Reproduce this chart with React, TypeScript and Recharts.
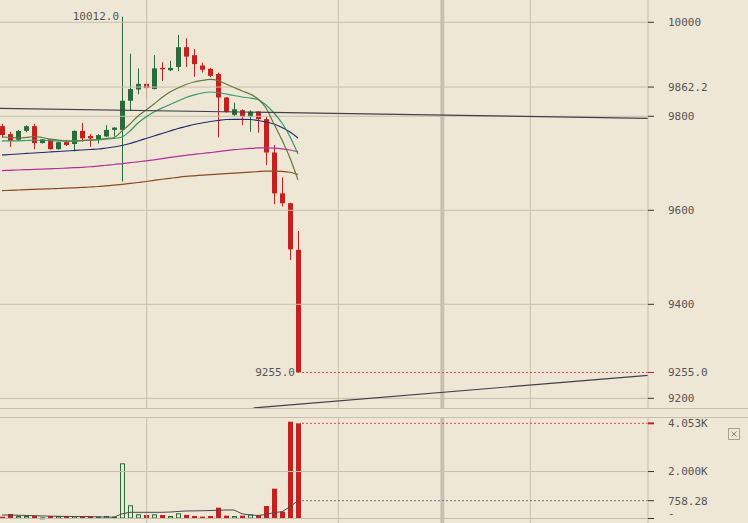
import React from 'react';
import { ComposedChart, Bar, Line, XAxis, YAxis, ReferenceLine, ReferenceDot } from 'recharts';

// ---------- data ----------
const openP = [9779, 9762, 9750, 9769, 9779, 9743, 9751, 9730, 9745, 9741, 9769, 9758, 9751, 9757, 9771, 9771, 9833, 9857, 9869, 9858, 9903, 9898, 9905, 9947, 9930, 9908, 9901, 9890, 9840, 9803, 9813, 9799, 9810, 9794, 9723, 9636, 9615, 9516];
const highP = [9784, 9767, 9771, 9781, 9784, 9752, 9752, 9746, 9748, 9770, 9786, 9762, 9762, 9781, 9777, 10012, 9933, 9902, 9876, 9930, 9915, 9918, 9973, 9966, 9943, 9914, 9903, 9893, 9841, 9829, 9815, 9813, 9811, 9799, 9739, 9670, 9616, 9556];
const lowP = [9754, 9735, 9748, 9766, 9730, 9742, 9729, 9729, 9737, 9725, 9746, 9735, 9742, 9756, 9757, 9661, 9811, 9847, 9837, 9857, 9875, 9896, 9896, 9905, 9884, 9893, 9883, 9755, 9808, 9799, 9781, 9767, 9765, 9696, 9613, 9608, 9494, 9255];
const closeP = [9760, 9748, 9769, 9779, 9743, 9751, 9730, 9745, 9739, 9769, 9753, 9753, 9760, 9771, 9776, 9833, 9858, 9869, 9860, 9902, 9900, 9903, 9947, 9927, 9911, 9899, 9886, 9840, 9809, 9815, 9799, 9810, 9794, 9723, 9636, 9615, 9517, 9255];
const volumes = [77, 192, 106, 106, 106, 50, 106, 106, 106, 106, 106, 106, 80, 106, 80, 2350, 562, 178, 149, 178, 149, 106, 220, 149, 106, 80, 106, 461, 120, 106, 120, 178, 135, 532, 1270, 291, 4123, 4053];
const volMA = [149, 149, 140, 130, 120, 110, 100, 95, 90, 85, 85, 80, 70, 60, 55, 200, 264, 264, 264, 264, 264, 275, 300, 319, 325, 330, 340, 350, 362, 362, 200, 150, 130, 170, 250, 290, 500, 758.28];

const maFast = [9756.0, 9754.9, 9753.8, 9754.9, 9757.0, 9754.9, 9751.7, 9749.6, 9747.5, 9746.4, 9748.5, 9749.6, 9750.6, 9752.8, 9754.9, 9768.7, 9783.6, 9800.6, 9813.4, 9826.2, 9840.0, 9851.7, 9860.2, 9867.6, 9873.0, 9876.2, 9878.7, 9876.2, 9868.7, 9861.3, 9853.9, 9847.4, 9836.8, 9817.6, 9783.6, 9749.6, 9711.3, 9664.5];
const maMid = [9747.5, 9747.5, 9747.9, 9748.5, 9749.0, 9749.0, 9748.5, 9747.9, 9747.5, 9747.5, 9748.1, 9749.0, 9750.0, 9751.3, 9752.8, 9756.0, 9768.7, 9785.7, 9798.5, 9809.1, 9817.6, 9825.1, 9832.5, 9840.0, 9845.3, 9849.6, 9851.7, 9850.6, 9847.4, 9844.2, 9841.0, 9838.9, 9835.7, 9824.1, 9807.0, 9785.7, 9756.6, 9719.8];
const maNavy = [9717.7, 9718.7, 9719.8, 9720.9, 9721.9, 9723.0, 9724.0, 9725.1, 9726.2, 9727.2, 9728.3, 9729.4, 9730.4, 9732.5, 9734.7, 9737.9, 9742.1, 9747.5, 9752.8, 9758.1, 9763.4, 9768.7, 9774.0, 9778.3, 9782.5, 9785.7, 9788.9, 9791.1, 9793.2, 9793.6, 9793.6, 9793.2, 9791.1, 9787.9, 9783.6, 9776.2, 9766.6, 9753.8];
const maMagenta = [9684.5, 9685.1, 9685.7, 9686.4, 9687.0, 9687.7, 9688.3, 9688.9, 9689.8, 9690.6, 9691.5, 9692.6, 9693.8, 9695.8, 9697.4, 9699.4, 9701.3, 9703.2, 9705.1, 9707.4, 9710.0, 9712.5, 9714.9, 9717.0, 9719.1, 9720.8, 9722.8, 9724.7, 9727.0, 9728.9, 9730.4, 9731.7, 9732.6, 9733.0, 9732.3, 9730.8, 9728.3, 9724.7];
const maBrown = [9641.9, 9642.5, 9643.2, 9643.8, 9644.5, 9645.1, 9645.7, 9646.4, 9647.0, 9647.9, 9648.7, 9649.6, 9650.6, 9652.1, 9653.6, 9655.3, 9657.2, 9659.2, 9661.3, 9663.6, 9666.0, 9668.1, 9670.2, 9672.0, 9673.4, 9674.7, 9676.0, 9677.0, 9678.1, 9679.1, 9680.2, 9681.3, 9682.3, 9683.2, 9683.4, 9682.8, 9680.9, 9676.2];

const priceTicks = [10000, 9862.2, 9800, 9600, 9400, 9255, 9200];
const priceTickLabels = ['10000', '9862.2', '9800', '9600', '9400', '9255.0', '9200'];
const volTicks = [4053, 2000, 758.28, 0];
const volTickLabels = ['4.053K', '2.000K', '758.28', '-'];

const priceGrid = [10000, 9862.2, 9800, 9600, 9400, 9200];
const volGrid = [2000, 0];
const vGrid = [18.08, 42.05, 66.05];
const sessionLine = 55.04;

const lastClose = 9255;
const lastVol = 4053;
const lastVolMA = 758.28;
const highLabel = { i: 15, v: 10012, text: '10012.0' };
const lowLabel = { i: 37, v: 9255, text: '9255.0' };

const trendA = [{ x: -0.25, y: 9817 }, { x: 80.75, y: 9795.7 }];
const trendB = [{ x: 31.4, y: 9179.4 }, { x: 80.75, y: 9248.9 }];

const xDomain: [number, number] = [-0.25, 80.75];
const priceDomain: [number, number] = [9179.4, 10047.4];
const volDomain: [number, number] = [-191.7, 4280.6];

const data = openP.map((o, i) => ({
  i,
  open: o,
  high: highP[i],
  low: lowP[i],
  close: closeP[i],
  range: [lowP[i], highP[i]],
  vol: volumes[i],
  volMA: volMA[i],
  ma1: maFast[i],
  ma2: maMid[i],
  ma3: maNavy[i],
  ma4: maMagenta[i],
  ma5: maBrown[i],
}));

// ---------- styles ----------
const BG = '#efe7d5';
const GRID = '#c7beac';
const RED = '#c4201f';
const GREEN = '#2a6b3c';
const TXT = '#555555';
const FONT = '"DejaVu Sans Mono", "Liberation Mono", monospace';
const W = 748;
const PRICE_H = 408;
const VOL_TOP = 418;
const VOL_H = 105;
const AXIS_W = 100;

const Candle = (props: any) => {
  const { x, y, width, height, payload } = props;
  if (!payload) return null;
  const { open, close, high, low } = payload;
  const top = Math.min(y, y + height);
  const h = Math.abs(height);
  const ratio = h / (high - low);
  const up = close >= open;
  const color = up ? GREEN : RED;
  const bx = Math.round(x);
  const bw = Math.round(width);
  const cx = bx + bw / 2;
  const bodyTop = top + (high - Math.max(open, close)) * ratio;
  const bodyH = Math.max(1, Math.abs(open - close) * ratio);
  return (
    <g>
      <line x1={cx} x2={cx} y1={top} y2={top + h} stroke={color} strokeWidth={1} />
      <rect x={bx} y={bodyTop} width={bw} height={bodyH} fill={color} />
    </g>
  );
};

const VolBar = (props: any) => {
  const { x, y, width, height, payload } = props;
  if (!payload) return null;
  const up = payload.close >= payload.open;
  const top = Math.min(y, y + height);
  const h = Math.abs(height);
  const bx = Math.round(x);
  const bw = Math.round(width);
  if (up) {
    return <rect x={bx + 0.5} y={top + 0.5} width={bw - 1} height={Math.max(1, h - 1)} fill="none" stroke={GREEN} strokeWidth={1} />;
  }
  return <rect x={bx} y={top} width={bw} height={h} fill={RED} />;
};

const makeTick = (ticks: number[], labels: string[], redValue: number, thickRed: boolean) => (props: any) => {
  const { x, y, payload } = props;
  const v = payload.value;
  const idx = ticks.indexOf(v);
  const red = v === redValue;
  const isZero = v === 0 && labels === volTickLabels;
  return (
    <g>
      <line x1={x} x2={x + 6} y1={y} y2={y} stroke={red ? RED : '#333'} strokeWidth={red && thickRed ? 2 : 1} />
      <text x={x + 20} y={isZero ? y - 1.5 : y} dy={isZero ? '0' : '0.35em'} fill={TXT} fontSize={11} fontFamily={FONT} textAnchor="start">
        {idx >= 0 ? labels[idx] : String(v)}
      </text>
    </g>
  );
};

const PriceTick = makeTick(priceTicks, priceTickLabels, lastClose, false);
const VolTick = makeTick(volTicks, volTickLabels, lastVol, true);

const PointLabel = (text: string) => (props: any) => {
  const vb = props.viewBox || {};
  const x = (vb.x ?? 0) + (vb.width ?? 0) / 2;
  const y = (vb.y ?? 0) + (vb.height ?? 0) / 2;
  return (
    <text x={x - 3} y={y} dy="0.35em" textAnchor="end" fill={TXT} fontSize={11} fontFamily={FONT}>
      {text}
    </text>
  );
};

const lineProps = {
  strokeWidth: 1.2,
  dot: false,
  activeDot: false,
  type: 'monotone' as const,
  isAnimationActive: false,
};

export default function App() {
  return (
    <div style={{ position: 'absolute', left: 0, top: 0, width: W, height: 523, background: BG, overflow: 'hidden', fontFamily: FONT }}>
      <div style={{ position: 'absolute', left: 0, top: 0 }}>
        <ComposedChart width={W} height={PRICE_H} data={data} margin={{ top: 0, right: 0, bottom: 0, left: 0 }}>
          <XAxis type="number" dataKey="i" domain={xDomain} allowDataOverflow hide />
          <YAxis
            orientation="right"
            width={AXIS_W}
            domain={priceDomain}
            allowDataOverflow
            ticks={priceTicks}
            interval={0}
            tickSize={0}
            tickMargin={0}
            tickLine={false}
            axisLine={{ stroke: GRID }}
            tick={<PriceTick />}
          />
          {priceGrid.map((v) => (
            <ReferenceLine key={'pg' + v} y={v} stroke={GRID} strokeWidth={1} />
          ))}
          {vGrid.map((v) => (
            <ReferenceLine key={'vg' + v} x={v} stroke={GRID} strokeWidth={1} />
          ))}
          <ReferenceLine x={sessionLine} stroke="#c9c0b3" strokeWidth={4} />
          <ReferenceLine segment={[{ x: 37.5, y: lastClose }, { x: xDomain[1], y: lastClose }]} stroke="#c8504a" strokeDasharray="2 2" />
          <Line dataKey="ma5" stroke="#8a4a22" {...lineProps} />
          <Line dataKey="ma4" stroke="#b0339a" {...lineProps} />
          <Line dataKey="ma3" stroke="#222a70" {...lineProps} />
          <Line dataKey="ma2" stroke="#2f9a68" {...lineProps} />
          <Line dataKey="ma1" stroke="#5e7c3c" {...lineProps} />
          <Bar dataKey="range" barSize={5} shape={<Candle />} activeBar={false} isAnimationActive={false} />
          <ReferenceLine segment={trendA} stroke="#40404c" strokeWidth={1.2} />
          <ReferenceLine segment={trendB} stroke="#40404c" strokeWidth={1.2} />
          <ReferenceDot x={highLabel.i} y={highLabel.v} r={0} fill="none" stroke="none" label={PointLabel(highLabel.text)} />
          <ReferenceDot x={lowLabel.i} y={lowLabel.v} r={0} fill="none" stroke="none" label={PointLabel(lowLabel.text)} />
        </ComposedChart>
      </div>
      <div style={{ position: 'absolute', left: 0, top: PRICE_H, width: W, height: 1, background: GRID }} />
      <div style={{ position: 'absolute', left: 0, top: VOL_TOP - 1, width: W, height: 1, background: GRID }} />
      <div style={{ position: 'absolute', left: 0, top: VOL_TOP }}>
        <ComposedChart width={W} height={VOL_H} data={data} margin={{ top: 0, right: 0, bottom: 0, left: 0 }}>
          <XAxis type="number" dataKey="i" domain={xDomain} allowDataOverflow hide />
          <YAxis
            orientation="right"
            width={AXIS_W}
            domain={volDomain}
            allowDataOverflow
            ticks={volTicks}
            interval={0}
            tickSize={0}
            tickMargin={0}
            tickLine={false}
            axisLine={{ stroke: GRID }}
            tick={<VolTick />}
          />
          {volGrid.map((v) => (
            <ReferenceLine key={'vgl' + v} y={v} stroke={GRID} strokeWidth={1} />
          ))}
          {vGrid.map((v) => (
            <ReferenceLine key={'vvg' + v} x={v} stroke={GRID} strokeWidth={1} />
          ))}
          <ReferenceLine x={sessionLine} stroke="#c9c0b3" strokeWidth={4} />
          <ReferenceLine segment={[{ x: 37.5, y: lastVol }, { x: xDomain[1], y: lastVol }]} stroke="#c8504a" strokeDasharray="2 2" />
          <ReferenceLine segment={[{ x: 37.5, y: lastVolMA }, { x: xDomain[1], y: lastVolMA }]} stroke="#777" strokeDasharray="2 2" />
          <Bar dataKey="vol" barSize={5} shape={<VolBar />} activeBar={false} isAnimationActive={false} />
          <Line dataKey="volMA" stroke="#4a4a4a" strokeWidth={1} dot={false} activeDot={false} type="linear" isAnimationActive={false} />
        </ComposedChart>
      </div>
      <svg style={{ position: 'absolute', left: 728, top: 428 }} width={12} height={12}>
        <rect x={0.5} y={0.5} width={11} height={11} fill="none" stroke="#a8a196" />
        <line x1={3.5} y1={3.5} x2={8.5} y2={8.5} stroke="#8a847a" />
        <line x1={8.5} y1={3.5} x2={3.5} y2={8.5} stroke="#8a847a" />
      </svg>
    </div>
  );
}
